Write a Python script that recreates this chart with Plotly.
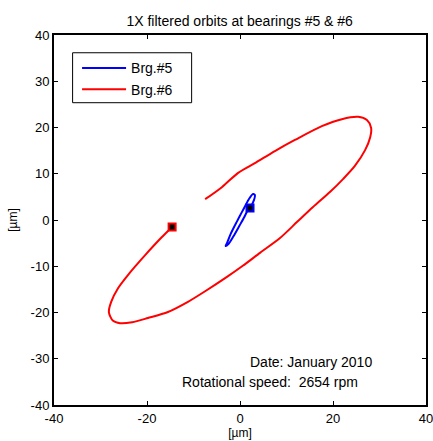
import plotly.graph_objects as go

# Brg.#6 (red) orbit, µm
brg6_x = [-14.6, -17.0, -20.4, -24.1, -26.2, -27.7, -28.2, -27.3, -25.8, -23.2, -19.8, -15.5,
          -11.2, -7.5, -2.8, 0.6, 4.3, 8.6, 12.3, 15.7, 19.4, 22.2, 24.7, 26.9, 28.0,
          28.2, 27.3, 25.4, 21.9, 17.6, 11.8, 7.5, 3.2, -0.4, -3.9, -7.5]
brg6_y = [-1.5, -3.9, -7.6, -11.9, -14.7, -17.7, -19.9, -21.8, -22.3, -22.1, -21.2, -19.9,
          -17.7, -15.4, -12.3, -9.9, -7.1, -3.9, -0.4, 2.8, 6.1, 8.9, 11.7, 15.1, 17.9,
          19.9, 21.6, 22.3, 21.8, 20.3, 17.3, 14.9, 12.3, 10.2, 7.1, 4.5]

# Brg.#5 (blue) orbit, µm
brg5_x = [2.15, 3.0, 3.2, 2.8, 1.9, 1.2, 0.4, -0.7, -2.0, -2.8, -3.1, -2.5, -1.4, -0.1, 0.9, 1.5, 2.15]
brg5_y = [2.6, 4.3, 5.4, 5.6, 4.5, 3.2, 1.7, -0.4, -3.0, -5.0, -5.6, -5.2, -3.5, -1.2, 0.6, 1.8, 2.6]

x_ticks = [-40, -20, 0, 20, 40]
y_ticks = [-40, -30, -20, -10, 0, 10, 20, 30, 40]

title_text = "1X filtered orbits at bearings #5 & #6"
date_text = "Date: January 2010"
speed_text = "Rotational speed:  2654 rpm"
unit_label = "[µm]"

FONT = "Liberation Sans, Arial, sans-serif"

fig = go.Figure()
fig.add_trace(go.Scatter(x=brg5_x, y=brg5_y, mode="lines", name="Brg.#5",
                         line=dict(color="#0000ff", width=2, shape="spline", smoothing=0.8)))
fig.add_trace(go.Scatter(x=brg6_x, y=brg6_y, mode="lines", name="Brg.#6",
                         line=dict(color="#ff0000", width=2, shape="spline", smoothing=0.8)))
fig.add_trace(go.Scatter(x=brg5_x[:1], y=brg5_y[:1], mode="markers", showlegend=False,
                         marker=dict(symbol="square", size=7, color="black",
                                     line=dict(color="#0000ff", width=2))))
fig.add_trace(go.Scatter(x=brg6_x[:1], y=brg6_y[:1], mode="markers", showlegend=False,
                         marker=dict(symbol="square", size=7, color="black",
                                     line=dict(color="#ff0000", width=2))))

fig.add_annotation(x=15.3, y=-30.7, text=date_text, showarrow=False,
                   xanchor="center", yanchor="middle", font=dict(size=14, color="black"))
fig.add_annotation(x=6.45, y=-35.1, text=speed_text, showarrow=False,
                   xanchor="center", yanchor="middle", font=dict(size=14, color="black"))

# legend box
fig.add_shape(type="rect", xref="paper", yref="paper", x0=0.050, x1=0.370, y0=0.817, y1=0.952,
              line=dict(color="black", width=1), fillcolor="white", layer="below")

axis_common = dict(showgrid=False, zeroline=False, showline=True, linecolor="black",
                   linewidth=2, mirror="ticks", ticks="inside", ticklen=4, tickwidth=1,
                   tickcolor="black", tickfont=dict(size=13, color="black"), automargin=False,
                   ticklabeloverflow="allow")

fig.update_layout(
    width=433, height=441, autosize=False,
    margin=dict(l=54, r=7, t=35, b=36),
    paper_bgcolor="white", plot_bgcolor="white",
    font=dict(family=FONT, color="black"),
    title=dict(text=title_text, x=0.5535, xanchor="center", y=1 - 20.7 / 441,
               yanchor="middle", yref="container", font=dict(size=14, color="black")),
    xaxis=dict(range=[-40, 40], tickvals=x_ticks, ticktext=[str(v) for v in x_ticks],
               title=dict(text=unit_label, standoff=4, font=dict(size=12)), **axis_common),
    yaxis=dict(range=[-40, 40], tickvals=y_ticks, ticktext=[str(v) for v in y_ticks],
               title=dict(text=unit_label, standoff=10, font=dict(size=12)), **axis_common),
    legend=dict(x=0.062, y=0.953, xanchor="left", yanchor="top", bgcolor="rgba(0,0,0,0)",
                borderwidth=0, itemwidth=44, font=dict(size=14, color="black"),
                tracegroupgap=0),
    showlegend=True,
)

fig.write_html("out.html")
